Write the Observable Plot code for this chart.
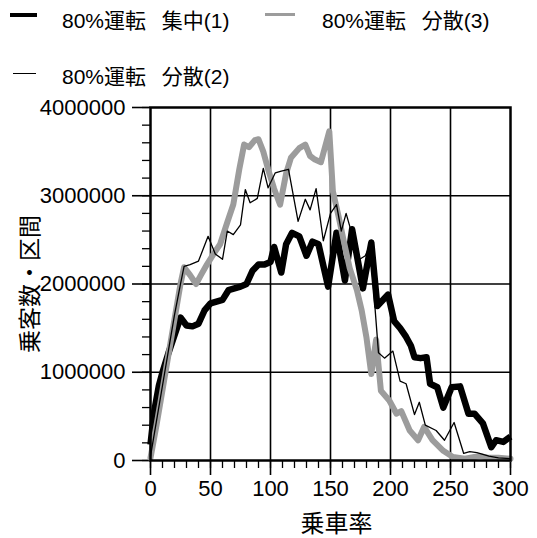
<!DOCTYPE html>
<html>
<head>
<meta charset="utf-8">
<script src="https://cdn.jsdelivr.net/npm/d3@7"></script>
<script src="https://cdn.jsdelivr.net/npm/@observablehq/plot@0.6"></script>
<style>
  html, body { margin: 0; padding: 0; background: white; }
  #wrap { width: 537px; height: 538px; position: relative; overflow: hidden; }
  #legend { position: relative; width: 537px; height: 92px; font-family: "Liberation Sans", "Noto Sans CJK JP", sans-serif; font-size: 21px; color: black; }
  .sw { position: absolute; }
  .lt { position: absolute; white-space: pre; line-height: 24px; word-spacing: 10px; font-family: "Liberation Sans", "Noto Sans CJK JP", sans-serif; }
  svg { display: block; }
</style>
</head>
<body>
<div id="wrap">
  <div id="legend"></div>
  <div id="chart"></div>
</div>
<script>
// ---- data ----
const seriesNames = ["80%運転 集中(1)", "80%運転 分散(3)", "80%運転 分散(2)"];
const xLabel = "乗車率";
const yLabel = "乗客数・区間";
const xTicks = [0, 50, 100, 150, 200, 250, 300];
const yTicks = [0, 1000000, 2000000, 3000000, 4000000];

// 集中(1)
const x1 = [0,3,7,10,15,20,25,30,35,40,45,50,55,60,65,70,75,80,85,90,95,100,103,109,113,118,124,130,135,140,148,155,162,168,177,184,189,198,203,208,213,217,220,225,230,233,239,244,251,258,265,270,277,284,288,294,300];
const y1 = [180000,550000,850000,1000000,1220000,1420000,1620000,1530000,1520000,1550000,1700000,1780000,1800000,1820000,1930000,1950000,1970000,2000000,2150000,2220000,2220000,2250000,2420000,2130000,2450000,2580000,2540000,2320000,2480000,2450000,1970000,2580000,2040000,2620000,1950000,2470000,1750000,1880000,1580000,1500000,1400000,1300000,1170000,1160000,1170000,870000,830000,600000,830000,840000,530000,530000,420000,150000,230000,210000,270000];

// 分散(3)
const x3 = [0,5,10,15,20,25,28,33,38,42,47,53,58,64,69,74,78,82,87,90,94,98,103,108,113,117,124,129,133,137,142,149,152,157,161,166,172,176,180,184,188,192,199,205,209,216,223,228,235,244,252,262,270,275,282,290,300];
const y3 = [30000,400000,800000,1200000,1600000,2000000,2190000,2100000,2000000,2100000,2220000,2350000,2450000,2700000,2900000,3300000,3580000,3550000,3630000,3640000,3500000,3300000,3080000,2900000,3250000,3430000,3540000,3580000,3450000,3410000,3380000,3730000,3050000,2750000,2490000,2180000,1930000,1700000,1390000,980000,1370000,790000,680000,530000,560000,340000,230000,380000,230000,110000,40000,20000,40000,50000,30000,30000,20000];

// 分散(2)
const x2 = [0,5,10,15,20,25,28,33,40,48,54,60,64,69,75,79,83,89,94,98,104,109,115,123,129,133,138,144,150,155,159,163,168,172,179,183,190,195,202,208,213,220,224,229,238,245,253,261,266,272,282,290,300];
const y2 = [50000,450000,850000,1250000,1650000,2000000,2200000,2220000,2260000,2540000,2340000,2280000,2600000,2560000,2670000,3070000,2920000,2970000,3310000,3090000,3260000,3280000,3300000,2710000,2960000,2840000,3080000,2490000,2800000,2900000,2600000,2800000,2560000,2260000,2320000,2450000,1220000,1160000,1240000,900000,870000,520000,660000,400000,340000,230000,430000,80000,100000,90000,50000,30000,20000];

const colors = ["#000000", "#9c9c9c", "#000000"];
const widths = [6.5, 6, 1.3];

const rows = x1.map((x, i) => ({s: seriesNames[0], x, y: y1[i]}));
const rows3 = x3.map((x, i) => ({s: seriesNames[1], x, y: y3[i]}));
const rows2 = x2.map((x, i) => ({s: seriesNames[2], x, y: y2[i]}));

// ---- legend (HTML above the SVG) ----
const legend = document.getElementById("legend");
const legendItems = [
  {name: seriesNames[0], sx: 10, sw: 27, sy: 13, sh: 4, color: colors[0], tx: 62, ty: 9},
  {name: seriesNames[1], sx: 265, sw: 30, sy: 13, sh: 3, color: colors[1], tx: 322, ty: 9},
  {name: seriesNames[2], sx: 13, sw: 23, sy: 73, sh: 1.3, color: colors[2], tx: 62, ty: 65}
];
for (const it of legendItems) {
  const s = document.createElement("div");
  s.className = "sw";
  s.style.left = it.sx + "px"; s.style.top = it.sy + "px";
  s.style.width = it.sw + "px"; s.style.height = it.sh + "px";
  s.style.background = it.color;
  legend.appendChild(s);
  const t = document.createElement("div");
  t.className = "lt";
  t.style.left = it.tx + "px"; t.style.top = it.ty + "px";
  t.textContent = it.name;
  legend.appendChild(t);
}

// ---- chart ----
const chart = Plot.plot({
  width: 537,
  height: 446,
  marginTop: 15,
  marginBottom: 78,
  marginLeft: 150,
  marginRight: 27,
  style: {fontFamily: "'Liberation Sans', Arial, sans-serif", fontSize: "22px", color: "black", background: "white", overflow: "visible"},
  x: {domain: [0, 300]},
  y: {domain: [0, 4000000]},
  marks: [
    Plot.gridX([50, 100, 150, 200, 250], {stroke: "black", strokeOpacity: 1, strokeWidth: 1.6}),
    Plot.gridY([1000000, 2000000, 3000000], {stroke: "black", strokeOpacity: 1, strokeWidth: 1.6}),
    Plot.axisY(d3.range(0, 4000001, 200000), {tickSize: 8, text: null, label: null, strokeWidth: 1.3}),
    Plot.axisY(yTicks, {tickSize: 18, tickPadding: 7, tickFormat: d3.format("d"), fontSize: 22, label: null, strokeWidth: 1.6}),
    Plot.axisX(d3.range(0, 301, 10), {tickSize: 8, text: null, label: null, strokeWidth: 1.3}),
    Plot.axisX(xTicks, {tickSize: 15, tickPadding: 5, tickFormat: d3.format("d"), fontSize: 22, label: null, strokeWidth: 1.6}),
    Plot.line(rows, {x: "x", y: "y", stroke: colors[0], strokeWidth: widths[0], strokeLinejoin: "round", strokeLinecap: "butt"}),
    Plot.line(rows3, {x: "x", y: "y", stroke: colors[1], strokeWidth: widths[1], strokeLinejoin: "round"}),
    Plot.line(rows2, {x: "x", y: "y", stroke: colors[2], strokeWidth: widths[2], strokeLinejoin: "round"}),
    Plot.frame({stroke: "black", strokeWidth: 2.5}),
    Plot.text([yLabel], {frameAnchor: "left", textAnchor: "middle", lineAnchor: "middle", dx: -120, rotate: -90, fontSize: 23, fontFamily: "'Noto Sans CJK JP', sans-serif", letterSpacing: 1}),
    Plot.text([xLabel], {frameAnchor: "bottom", textAnchor: "middle", lineAnchor: "middle", dy: 64, dx: 6, fontSize: 24, fontFamily: "'Noto Sans CJK JP', sans-serif"})
  ]
});
document.getElementById("chart").appendChild(chart);
</script>
</body>
</html>
